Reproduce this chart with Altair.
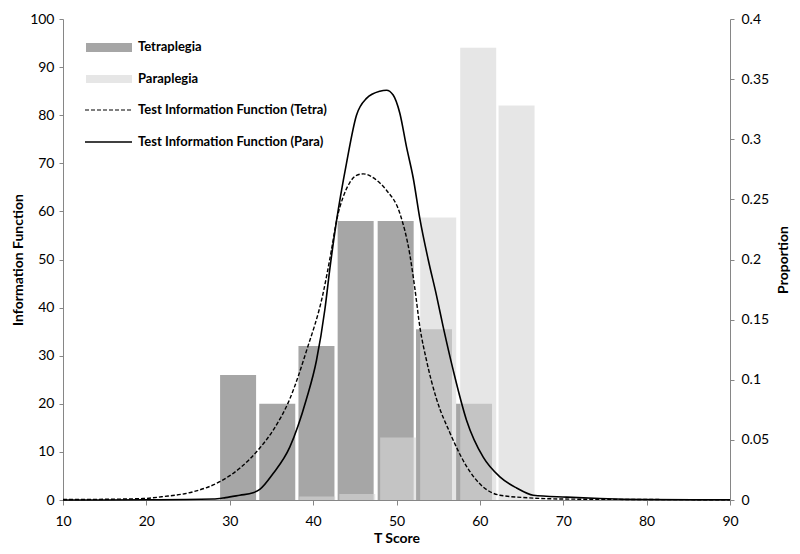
import altair as alt
import pandas as pd

# ---- data ----
tetra_centers = [31.0, 35.7, 40.4, 45.1, 49.9, 54.5, 59.3]
tetra_prop = [0.104, 0.080, 0.128, 0.232, 0.232, 0.142, 0.080]

para_centers = [40.5, 45.3, 50.2, 55.0, 59.8, 64.4]
para_prop = [0.003, 0.005, 0.052, 0.235, 0.376, 0.328]

tetra_x = [10, 15, 19.6, 22, 25.6, 28.8, 31.2, 33.6, 35.2, 37.2, 39.2, 41.2, 42.2, 42.8,
           43.6, 44.4, 45.2, 46.0, 47.6, 48.8, 50.4, 51.6, 52.2, 52.8, 53.6, 54.8, 56.4,
           58.4, 60.4, 62.4, 66.4, 70, 80, 90]
tetra_info = [0.1, 0.15, 0.3, 0.7, 1.7, 3.8, 6.6, 10.8, 14.5, 21, 31, 43, 52, 58,
              63, 66, 67.5, 67.8, 66.5, 64.4, 59.6, 51, 44, 36, 29, 21, 14,
              7, 2.7, 1.0, 0.4, 0.2, 0.1, 0.05]

para_x = [10, 20, 28, 29.5, 31.2, 32.8, 33.6, 35.2, 37.2, 39.2, 40.4, 41.4, 42.0, 42.8,
          44.0, 45.2, 46.4, 48.0, 48.8, 49.6, 50.4, 51.2, 52.0, 52.8, 53.8, 54.8, 55.6,
          56.8, 58.4, 60.4, 62.4, 64.4, 66.4, 70.4, 74.4, 80, 90]
para_info = [0, 0.05, 0.2, 0.5, 1.0, 1.5, 2.2, 5.5, 11, 21, 29, 39.5, 48, 58,
             70, 80, 83.5, 85, 85.2, 84.2, 80.4, 73.4, 67, 58.5, 50, 42.5, 36,
             27, 16.6, 8.9, 4.8, 2.5, 1.0, 0.6, 0.3, 0.1, 0.05]

legend_labels = ["Tetraplegia", "Paraplegia",
                 "Test Information Function (Tetra)", "Test Information Function (Para)"]

FONT = "Lato"
TETRA_GRAY = "#a6a6a6"
PARA_GRAY = "#d7d7d7"

tetra_df = pd.DataFrame({"T": tetra_centers, "p": tetra_prop})
para_df = pd.DataFrame({"T": para_centers, "p": para_prop})
tline = pd.DataFrame({"T": tetra_x, "I": tetra_info})
pline = pd.DataFrame({"T": para_x, "I": para_info})

xscale = alt.Scale(domain=[10, 90], nice=False, padding=0)
xaxis = alt.Axis(values=list(range(10, 91, 10)), title="T Score", tickSize=5,
                 labelPadding=9, titlePadding=3, labelFlush=False)

right_axis = alt.Axis(orient="right", values=[i * 0.05 for i in range(9)], format="~g",
                      title="Proportion", tickSize=4, labelPadding=7, titlePadding=22,
                      titleAngle=270, labelFlush=False)
left_axis = alt.Axis(orient="left", values=list(range(0, 101, 10)),
                     title="Information Function", tickSize=4, labelPadding=5, titlePadding=4,
                     labelFlush=False)

pscale = alt.Scale(domain=[0, 0.4], nice=False)
iscale = alt.Scale(domain=[0, 100], nice=False)

bars_t = alt.Chart(tetra_df).mark_bar(size=36, color=TETRA_GRAY).encode(
    x=alt.X("T:Q", scale=xscale, axis=xaxis),
    y=alt.Y("p:Q", scale=pscale, axis=right_axis),
)
bars_p = alt.Chart(para_df).mark_bar(size=36, color=PARA_GRAY, opacity=0.62).encode(
    x=alt.X("T:Q", scale=xscale, axis=xaxis),
    y=alt.Y("p:Q", scale=pscale, axis=None),
)
line_t = alt.Chart(tline).mark_line(color="black", strokeWidth=1.4, strokeDash=[4, 2],
                                     interpolate="monotone").encode(
    x=alt.X("T:Q", scale=xscale, axis=xaxis),
    y=alt.Y("I:Q", scale=iscale, axis=left_axis),
)
line_p = alt.Chart(pline).mark_line(color="black", strokeWidth=1.6,
                                     interpolate="monotone").encode(
    x=alt.X("T:Q", scale=xscale, axis=xaxis),
    y=alt.Y("I:Q", scale=iscale, axis=None),
)

one = pd.DataFrame({"a": [0]})
leg_rect_t = alt.Chart(one).mark_rect(color=TETRA_GRAY).encode(
    x=alt.value(23), x2=alt.value(69), y=alt.value(24), y2=alt.value(33))
leg_rect_p = alt.Chart(one).mark_rect(color=PARA_GRAY, opacity=0.62).encode(
    x=alt.value(23), x2=alt.value(69), y=alt.value(56), y2=alt.value(64))
leg_line_t = alt.Chart(one).mark_rule(color="black", strokeWidth=1.2, strokeDash=[4, 2]).encode(
    x=alt.value(22), x2=alt.value(69), y=alt.value(91))
leg_line_p = alt.Chart(one).mark_rule(color="black", strokeWidth=1.6).encode(
    x=alt.value(22), x2=alt.value(69), y=alt.value(123))

leg_text_df = pd.DataFrame({"label": legend_labels, "row": [0, 1, 2, 3]})
leg_text = alt.Chart(leg_text_df).mark_text(
    align="left", baseline="middle", font=FONT, fontWeight="bold", fontSize=13, color="black"
).encode(
    x=alt.value(75),
    y=alt.Y("row:Q", scale=alt.Scale(domain=[0, 3], range=[28, 123]), axis=None),
    text="label:N",
)

chart = alt.layer(
    bars_t, bars_p, line_t, line_p,
    leg_rect_t, leg_rect_p, leg_line_t, leg_line_p, leg_text
).resolve_scale(y="independent").properties(
    width=667, height=481,
    autosize=alt.AutoSizeParams(type="none"),
    padding={"left": 55, "top": 11, "right": 62, "bottom": 46},
).configure_view(stroke=None).configure_axis(
    grid=False,
    domainColor="#868686",
    tickColor="#868686",
    labelFont=FONT,
    labelFontSize=14,
    labelColor="#000000",
    titleFont=FONT,
    titleFontSize=14,
    titleFontWeight="bold",
    titleColor="#000000",
)

chart.save("out.html", embed_options={"renderer": "svg", "actions": False})
